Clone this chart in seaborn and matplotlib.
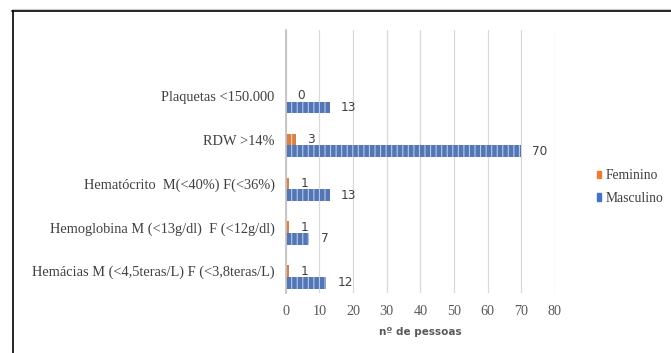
import matplotlib
matplotlib.use('Agg')
import numpy as np
import pandas as pd
import seaborn as sns
from matplotlib import pyplot as plt
from matplotlib.lines import Line2D

# dados (de cima para baixo)
categorias = ['Plaquetas <150.000',
              'RDW >14%',
              'Hematócrito  M(<40%) F(<36%)',
              'Hemoglobina M (<13g/dl)  F (<12g/dl)',
              'Hemácias M (<4,5teras/L) F (<3,8teras/L)']
feminino = [0, 3, 1, 1, 1]
masculino = [13, 70, 13, 7, 12]
series = ['Feminino', 'Masculino']
x_ticks = [0, 10, 20, 30, 40, 50, 60, 70, 80]

df = pd.DataFrame({
    'Categoria': categorias * 2,
    'Sexo': ['Feminino'] * len(categorias) + ['Masculino'] * len(categorias),
    'Pessoas': feminino + masculino,
})

sns.set_style('white')
plt.rcParams['font.family'] = ['Liberation Serif', 'DejaVu Serif']
plt.rcParams['hatch.linewidth'] = 0.8

fig = plt.figure(figsize=(6.71, 3.53), dpi=100)
ax = fig.add_axes([0.426, 0.170, 0.401, 0.745])

bar_w = 0.533
sns.barplot(data=df, x='Pessoas', y='Categoria', hue='Sexo', order=categorias,
            hue_order=series, palette=['#ED7D31', '#4472C4'], width=bar_w,
            orient='h', ax=ax, legend=False)

hatch_cols = {'Feminino': '#F8C7A6', 'Masculino': '#B4C9EE'}
for cont, s in zip(ax.containers, series):
    for p in cont:
        p.set_hatch('|||')
        p.set_edgecolor(hatch_cols[s])
        p.set_linewidth(0)
    ax.bar_label(cont, padding=8, fontsize=8.7, color='#404040',
                 family='DejaVu Sans', labels=[str(int(v)) for v in cont.datavalues])

# rótulos centrados na barra feminina, uma categoria vazia no topo
pos = np.arange(len(categorias)) - bar_w / 4
ax.set_yticks(pos)
ax.set_yticklabels(categorias, fontsize=10.4, color='#404040')
ax.set_ylim(pos[-1] + 0.5, pos[-1] - 5.5)

ax.set_xlim(0, 80)
ax.set_xticks(x_ticks)
ax.set_xticklabels([str(t) for t in x_ticks], fontsize=10.2, color='#595959')
ax.tick_params(axis='y', length=0, pad=8)
ax.tick_params(axis='x', length=0, pad=9)
ax.set_xlabel('nº de pessoas', fontsize=7.5, fontweight='bold', color='#595959',
              family='DejaVu Sans', labelpad=6)
ax.set_ylabel('')

ax.grid(axis='x', color='#D9D9D9', linewidth=0.9)
ax.set_axisbelow(True)
for sp in ['top', 'right', 'bottom']:
    ax.spines[sp].set_visible(False)
ax.spines['left'].set_color('#BFBFBF')
ax.spines['left'].set_linewidth(1.2)

handles = [plt.Rectangle((0, 0), 1, 1, color='#ED7D31'),
           plt.Rectangle((0, 0), 1, 1, color='#4472C4')]
fig.legend(handles, series, loc='center left', bbox_to_anchor=(0.889, 0.470),
           frameon=False, fontsize=9.8, handlelength=0.35, handleheight=0.45,
           handletextpad=0.3, labelspacing=0.72, labelcolor='#404040',
           borderaxespad=0, borderpad=0)

# moldura
fig.add_artist(Line2D([12 / 671, 1], [1 - 9 / 353, 1 - 9 / 353], color='#C8C8C8', lw=0.8))
fig.add_artist(Line2D([12 / 671, 1], [1 - 10.5 / 353, 1 - 10.5 / 353], color='black', lw=1.2))
fig.add_artist(Line2D([12.5 / 671, 12.5 / 671], [0, 1 - 10.5 / 353], color='black', lw=1.2))

fig.savefig('out.png', dpi=100)
plt.close(fig)
